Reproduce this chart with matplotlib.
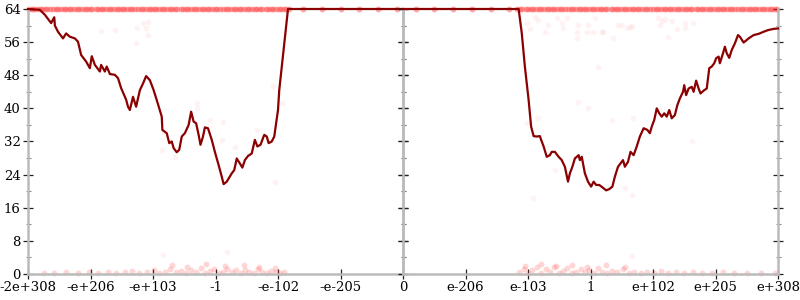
import numpy as np
import matplotlib
matplotlib.use("Agg")
import matplotlib.pyplot as plt
from matplotlib.ticker import MultipleLocator

# main trace, axis units 0..12 (left half negatives, right half positives)
left_x = [0, 0.19, 0.27, 0.37, 0.42, 0.43, 0.48, 0.56, 0.61, 0.67, 0.75, 0.80, 0.85, 0.93,
          0.99, 1.02, 1.07, 1.15, 1.17, 1.23, 1.26, 1.31, 1.39, 1.44, 1.49, 1.57, 1.60, 1.63,
          1.68, 1.73, 1.79, 1.84, 1.89, 1.95, 2.01, 2.06, 2.14, 2.15, 2.22, 2.26, 2.30, 2.33,
          2.38, 2.42, 2.46, 2.51, 2.57, 2.61, 2.65, 2.69, 2.73, 2.76, 2.80, 2.83, 2.88, 2.94,
          2.99, 3.05, 3.10, 3.13, 3.18, 3.26, 3.30, 3.34, 3.39, 3.43, 3.47, 3.52, 3.58, 3.63,
          3.67, 3.72, 3.78, 3.82, 3.85, 3.90, 3.94, 3.97, 4.00, 4.02, 4.16, 6.0]
left_y = [64, 63.8, 62.6, 60.6, 62.0, 60.0, 58.5, 56.9, 58.1, 57.3, 56.9, 56.1, 52.9, 51.3,
          49.7, 52.6, 50.5, 48.9, 50.5, 48.9, 50.1, 48.3, 48.1, 47.3, 44.9, 42.1, 40.4, 39.6,
          42.8, 40.4, 44.4, 46.0, 47.8, 46.8, 44.4, 42.0, 38.0, 34.8, 34.0, 31.6, 32.0, 30.4,
          29.4, 30.0, 33.2, 34.0, 36.0, 39.2, 36.8, 36.4, 33.6, 31.2, 33.2, 35.4, 35.2, 32.4,
          29.5, 26.3, 23.5, 21.7, 22.3, 24.3, 25.1, 27.9, 26.7, 25.7, 27.5, 28.5, 29.1, 32.4,
          30.8, 31.2, 33.6, 33.2, 31.6, 32.0, 33.2, 36.4, 39.6, 44.4, 64, 64]

right_x = [6.0, 7.85, 7.90, 7.95, 8.01, 8.05, 8.09, 8.14, 8.19, 8.21, 8.25, 8.30, 8.35, 8.38,
           8.43, 8.49, 8.54, 8.59, 8.64, 8.67, 8.71, 8.75, 8.81, 8.83, 8.86, 8.91, 8.96, 9.01,
           9.05, 9.09, 9.14, 9.21, 9.25, 9.30, 9.35, 9.39, 9.44, 9.48, 9.52, 9.55, 9.60, 9.64,
           9.69, 9.74, 9.79, 9.85, 9.91, 9.95, 9.98, 10.02, 10.06, 10.10, 10.14, 10.18, 10.22,
           10.26, 10.30, 10.35, 10.39, 10.43, 10.48, 10.50, 10.53, 10.57, 10.62, 10.65, 10.69,
           10.73, 10.76, 10.82, 10.86, 10.90, 10.94, 10.98, 11.01, 11.05, 11.07, 11.12, 11.15,
           11.18, 11.22, 11.26, 11.31, 11.36, 11.39, 11.45, 11.53, 11.61, 11.69, 11.77, 11.84,
           11.93, 12.0]
right_y = [64, 64, 58.2, 50.1, 42.0, 35.6, 33.3, 33.2, 33.3, 32.4, 30.8, 28.3, 28.7, 29.5,
           29.5, 28.3, 27.5, 25.9, 22.3, 24.3, 25.9, 27.9, 28.7, 27.5, 28.3, 24.3, 22.3, 21.1,
           22.3, 21.5, 21.5, 20.7, 20.2, 20.5, 21.1, 23.5, 25.9, 26.7, 27.5, 25.9, 27.1, 29.5,
           28.7, 30.8, 33.2, 35.2, 34.8, 34.0, 35.6, 37.2, 40.0, 38.8, 38.0, 38.8, 38.0,
           39.6, 37.6, 38.4, 40.8, 42.4, 44.0, 45.6, 43.2, 44.8, 45.2, 44.0, 46.7,
           44.8, 43.6, 44.4, 44.8, 49.7, 50.1, 50.9, 52.1, 52.5, 50.9, 53.3, 54.9,
           53.3, 52.2, 54.1, 55.7, 57.7, 57.3, 55.9, 56.9, 57.7, 58.0, 58.5, 58.9,
           59.2, 59.3]

# faint samples: dense band at the top (y = 64)
top_band_x = [0.02, 0.10, 0.19, 0.27, 0.35, 0.44, 0.52, 0.61, 0.69, 0.78, 0.86, 0.95, 1.03,
              1.12, 1.20, 1.29, 1.37, 1.46, 1.54, 1.63, 1.71, 1.80, 1.88, 1.97, 2.05, 2.14,
              2.22, 2.31, 2.39, 2.48, 2.56, 2.65, 2.73, 2.82, 2.90, 2.99, 3.07, 3.16, 3.24,
              3.33, 3.41, 3.50, 3.58, 3.67, 3.75, 3.84, 3.92, 4.01, 4.09, 4.18, 4.40, 4.70,
              5.00, 5.30, 5.60, 5.90, 6.20, 6.50, 6.80, 7.10, 7.40, 7.70, 7.83, 7.91, 8.00,
              8.08, 8.17, 8.25, 8.34, 8.42, 8.51, 8.59, 8.68, 8.76, 8.85, 8.93, 9.02, 9.10,
              9.19, 9.27, 9.36, 9.44, 9.53, 9.61, 9.70, 9.78, 9.87, 9.95, 10.04, 10.12,
              10.21, 10.29, 10.38, 10.46, 10.55, 10.63, 10.72, 10.80, 10.89, 10.97, 11.06,
              11.14, 11.23, 11.31, 11.40, 11.48, 11.57, 11.65, 11.74, 11.82, 11.91, 11.98,
              0.06, 0.15, 0.23, 0.31, 0.40, 0.48, 0.57, 0.65, 0.74, 0.82, 0.91, 0.99, 1.08,
              1.16, 1.25, 1.33, 1.42, 1.50, 1.59, 1.67, 1.76, 1.84, 1.93, 2.01, 2.10, 2.18,
              2.27, 2.35, 2.44, 2.52, 2.61, 2.69, 2.78, 2.86, 2.95, 3.03, 3.12, 3.20, 3.29,
              3.37, 3.46, 3.54, 3.63, 3.71, 3.80, 3.88, 3.97, 4.05, 4.13,
              7.87, 7.96, 8.04, 8.13, 8.21, 8.30, 8.38, 8.47, 8.55, 8.64, 8.72, 8.81, 8.89,
              8.98, 9.06, 9.15, 9.23, 9.32, 9.40, 9.49, 9.57, 9.66, 9.74, 9.83, 9.91, 10.00,
              10.08, 10.17, 10.25, 10.34, 10.42, 10.51, 10.59, 10.68, 10.76, 10.85, 10.93,
              11.02, 11.10, 11.19, 11.27, 11.36, 11.44, 11.53, 11.61, 11.70, 11.78, 11.87, 11.95]

# faint samples: band along the bottom
bottom_band_x = [0.25, 0.42, 0.61, 0.80, 0.97, 1.12, 1.28, 1.41, 1.55, 1.66, 1.78, 1.90, 2.01,
                 2.10, 2.19, 2.27, 2.36, 2.44, 2.52, 2.60, 2.68, 2.76, 2.83, 2.91, 2.98, 3.05,
                 3.12, 3.19, 3.26, 3.33, 3.40, 3.47, 3.54, 3.61, 3.68, 3.75, 3.82, 3.89, 3.96,
                 4.03, 4.10, 2.30, 2.55, 2.85, 3.15, 3.45, 3.70, 3.95,
                 7.86, 7.93, 8.00, 8.07, 8.14, 8.21, 8.28, 8.35, 8.42, 8.49, 8.56, 8.63, 8.70,
                 8.77, 8.84, 8.91, 8.98, 9.05, 9.12, 9.19, 9.27, 9.35, 9.43, 9.52, 9.61, 9.70,
                 9.80, 9.90, 10.01, 10.12, 10.24, 10.37, 10.50, 10.64, 10.79, 10.95, 11.12,
                 11.30, 11.50, 11.72, 11.95, 7.95, 8.20, 8.45, 8.70, 8.95, 9.25, 9.55]
bottom_band_y = [0.3, 0.2, 0.4, 0.3, 0.5, 0.2, 0.6, 0.3, 0.4, 0.7, 0.2, 0.5, 0.9,
                 0.3, 0.6, 1.2, 0.4, 0.8, 0.2, 1.0, 0.5, 1.4, 0.3, 0.7, 1.1, 0.2,
                 0.6, 1.3, 0.4, 0.9, 0.2, 1.0, 0.5, 0.3, 1.2, 0.6, 0.2, 0.8, 0.4,
                 0.3, 0.5, 2.1, 1.8, 2.4, 1.9, 2.2, 1.7, 1.5,
                 0.4, 1.3, 0.3, 0.9, 1.6, 0.2, 1.1, 0.5, 1.8, 0.3, 0.8, 1.4, 0.2,
                 0.6, 1.2, 0.4, 0.9, 0.3, 1.5, 0.5, 0.2, 0.8, 0.4, 1.1, 0.3, 0.6,
                 0.2, 0.5, 0.3, 0.7, 0.2, 0.4, 0.3, 0.5, 0.2, 0.3, 0.4,
                 0.2, 0.3, 0.2, 0.3, 2.0, 2.3, 1.9, 2.2, 1.8, 2.1, 1.7]

# faint scattered outliers
outlier_x = [1.17, 1.39, 1.74, 1.84, 1.92, 1.89, 1.92, 1.73, 2.70, 2.70, 2.91, 3.12, 3.10,
             2.16, 2.14, 2.35, 3.31, 3.66, 3.95, 4.06, 3.92, 2.16, 3.18,
             8.11, 7.98, 8.03, 8.16, 8.27, 8.32, 8.46, 8.54, 8.56, 8.62, 8.78, 8.80, 8.94,
             8.96, 9.04, 9.07, 9.18, 8.78, 9.36, 9.44, 9.63, 9.50, 9.58, 9.66, 10.08, 10.14,
             10.19, 10.30, 10.11, 10.38, 10.51, 10.51, 10.64, 10.24, 9.20, 9.12, 8.80, 8.96,
             8.16, 7.98, 9.34, 9.68, 8.43, 8.08, 9.55, 9.66, 10.62, 9.66]
outlier_y = [58.7, 58.9, 59.4, 60.6, 60.9, 59.4, 57.7, 55.8, 41.3, 40.1, 37.2, 36.7, 32.4,
             34.3, 29.9, 28.3, 30.7, 34.8, 22.2, 41.3, 45.4, 4.6, 5.3,
             62.1, 60.6, 59.2, 61.3, 58.4, 60.1, 61.8, 60.6, 59.4, 61.8, 58.4, 60.1, 58.4,
             60.1, 58.4, 61.8, 58.4, 57.0, 57.0, 60.1, 59.7, 60.1, 59.4, 59.9, 61.8, 61.1,
             61.6, 61.1, 60.1, 59.2, 59.4, 60.6, 60.6, 57.2, 58.4, 50.0, 41.5, 40.1,
             37.7, 36.5, 37.2, 37.7, 25.1, 18.4, 20.8, 19.1, 32.0, 4.3]

left_ticks = [0, 1, 2, 3, 4, 5]
left_labels = ['-2e+308', '-e+206', '-e+103', '-1', '-e-102', '-e-205']
right_ticks = [6, 7, 8, 9, 10, 11, 12]
right_labels = ['0', 'e-206', 'e-103', '1', 'e+102', 'e+205', 'e+308']

plt.rcParams['font.family'] = ['DejaVu Serif']
plt.rcParams['font.size'] = 9.5

fig = plt.figure(figsize=(8, 3), dpi=100)
ax1 = fig.add_axes([0.035, 0.0867, 0.46875, 0.8833])
ax2 = fig.add_axes([0.50375, 0.0867, 0.46875, 0.8833], sharey=ax1)

sx = np.array(top_band_x)
bx = np.array(bottom_band_x)
by = np.array(bottom_band_y)
ox = np.array(outlier_x)
oy = np.array(outlier_y)
for ax, lo, hi in [(ax1, 0, 6), (ax2, 6, 12)]:
    m = (sx >= lo) & (sx <= hi)
    ax.scatter(sx[m], np.full(m.sum(), 64.0), s=18, color='#ff1010', alpha=0.35,
               linewidths=0, clip_on=False, zorder=2)
    m = (bx >= lo) & (bx <= hi)
    ax.scatter(bx[m], by[m], s=18, color='#ff2020', alpha=0.18,
               linewidths=0, clip_on=False, zorder=2)
    m = (ox >= lo) & (ox <= hi)
    ax.scatter(ox[m], oy[m], s=16, color='#ff3030', alpha=0.06,
               linewidths=0, clip_on=False, zorder=2)

ax1.plot(left_x, left_y, color='#8b0000', lw=1.6, clip_on=False, zorder=3)
ax2.plot(right_x, right_y, color='#8b0000', lw=1.6, clip_on=False, zorder=3)

ax1.set_xlim(0, 6)
ax2.set_xlim(6, 12)
ax1.set_ylim(0, 64)

ax1.set_xticks(left_ticks)
ax1.set_xticklabels(left_labels)
ax2.set_xticks(right_ticks)
ax2.set_xticklabels(right_labels)

for ax in (ax1, ax2):
    ax.yaxis.set_major_locator(MultipleLocator(8))
    ax.yaxis.set_minor_locator(MultipleLocator(4))
    ax.spines['top'].set_visible(False)
    for side in ('left', 'right', 'bottom'):
        ax.spines[side].set_color('#bbbbbb')
        ax.spines[side].set_linewidth(1.8)
    ax.tick_params(axis='both', which='major', direction='inout', length=6.5,
                   width=0.9, color='#222222', labelsize=9.5, pad=2)
    ax.tick_params(axis='y', which='minor', direction='inout', length=3.6,
                   width=0.8, color='#888888')
    ax.tick_params(axis='y', which='both', left=True, right=True)
    ax.set_facecolor('none')

ax1.tick_params(axis='y', labelleft=True, labelright=False)
ax2.tick_params(axis='y', labelleft=False, labelright=False)

fig.savefig('out.png', dpi=100)
